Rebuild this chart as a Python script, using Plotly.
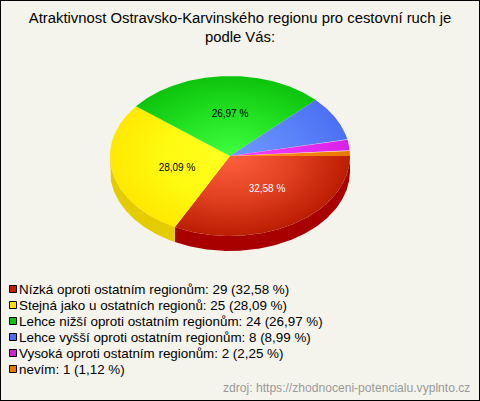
import math
import plotly.graph_objects as go

TITLE = "Atraktivnost Ostravsko-Karvinského regionu pro cestovní ruch je<br>podle Vás:"
SOURCE = "zdroj: https://zhodnoceni-potencialu.vyplnto.cz"
categories = [
    "Nízká oproti ostatním regionům",
    "Stejná jako u ostatních regionů",
    "Lehce nižší oproti ostatním regionům",
    "Lehce vyšší oproti ostatním regionům",
    "Vysoká oproti ostatním regionům",
    "nevím",
]
counts = [29, 25, 24, 8, 2, 1]

edge_colors = ["#BC1C00", "#FFE800", "#0CC40C", "#4C70F4", "#D820E8", "#E87800"]
mid_colors = ["#E04020", "#FFFA10", "#22E022", "#5C84FA", "#E830F4", "#F48810"]
center_colors = ["#FF6040", "#FFFF20", "#40FF40", "#7098FF", "#F840FF", "#FF9820"]
side_colors = ["#A80000", "#E4CC00", "#0A9A0A", "#3A58C0", "#A818B8", "#B86000"]
legend_colors = ["#C02000", "#FFE000", "#0CC40C", "#4C70F4", "#D020D8", "#E87800"]
label_text_colors = ["#FFFFFF", "#000000", "#000000"]
label_offsets = [(37, 33), (-53, 12), (0, -42)]

W, H = 480, 401
CX, CY, RX, RY, DEPTH = 230, 156, 120, 80, 15
BG = "#F5F4EC"
total = sum(counts)


def pt(deg, dy=0):
    a = math.radians(deg)
    return CX + RX * math.cos(a), CY + RY * math.sin(a) + dy


fig = go.Figure()

# Slice angle bounds, clockwise on screen from 3 o'clock
bounds = [0]
for c in counts:
    bounds.append(bounds[-1] + 360 * c / total)

# Walls of the visible front half
for i in range(len(counts)):
    a0, a1 = bounds[i], min(bounds[i + 1], 180)
    if a0 >= 180:
        continue
    n = max(2, int((a1 - a0) * 2))
    arc = [a0 + (a1 - a0) * k / n for k in range(n + 1)]
    top = [pt(a) for a in arc]
    bottom = [pt(a, DEPTH) for a in reversed(arc)]
    pts = top + bottom + [top[0]]
    fig.add_trace(go.Scatter(x=[p[0] for p in pts], y=[p[1] for p in pts], mode="lines",
                             line=dict(width=0), fill="toself", fillcolor=side_colors[i],
                             hoverinfo="skip", showlegend=False))

# Top face: zero-area spikes make each slice's bounding box the full ellipse,
# so the radial gradient is centred on the pie centre.
for i in range(len(counts)):
    a0, a1 = bounds[i], bounds[i + 1]
    n = max(2, int((a1 - a0) * 2))
    pts = [(CX, CY)] + [pt(a0 + (a1 - a0) * k / n) for k in range(n + 1)] + [(CX, CY)]
    for deg in (0, 90, 180, 270):
        pts += [pt(deg), (CX, CY)]
    fig.add_trace(go.Scatter(x=[p[0] for p in pts], y=[p[1] for p in pts], mode="lines",
                             line=dict(width=0), fill="toself",
                             fillgradient=dict(type="radial",
                                               colorscale=[[0, center_colors[i]], [0.55, mid_colors[i]],
                                                           [1, edge_colors[i]]]),
                             hoverinfo="skip", showlegend=False))

# Percent labels on the three biggest slices
for i, (dx, dy) in enumerate(label_offsets):
    pct = f"{100 * counts[i] / total:.2f}".replace(".", ",") + " %"
    fig.add_trace(go.Scatter(x=[CX + dx], y=[CY + dy], mode="text", text=[pct],
                             textposition="middle center",
                             textfont=dict(family="Liberation Sans", size=10, color=label_text_colors[i]),
                             hoverinfo="skip", showlegend=False))

# Legend
for i, cat in enumerate(categories):
    fig.add_trace(go.Scatter(x=[13], y=[289 + 16 * i], mode="markers",
                             marker=dict(symbol="square", size=7, color=legend_colors[i],
                                         line=dict(color="#000000", width=1)),
                             hoverinfo="skip", showlegend=False))

legend_notes = [dict(text=f"{cat}: {counts[i]} ({100 * counts[i] / total:.2f} %)".replace(".", ","),
                     x=20, y=289 + 16 * i, xref="x", yref="y", xanchor="left", yanchor="middle",
                     xshift=-3, showarrow=False, font=dict(family="Liberation Sans", size=13.4, color="#000000"))
                for i, cat in enumerate(categories)]

fig.update_layout(
    width=W, height=H, margin=dict(l=0, r=0, t=0, b=0),
    paper_bgcolor=BG, plot_bgcolor=BG, showlegend=False,
    title=dict(text=TITLE, x=0.5, xanchor="center", xref="paper", y=1 - 23 / H, yanchor="middle",
               font=dict(family="Liberation Sans", size=14.85, color="#000000")),
    xaxis=dict(range=[0, W], visible=False, fixedrange=True),
    yaxis=dict(range=[H, 0], visible=False, fixedrange=True),
    shapes=[dict(type="rect", xref="paper", yref="paper", x0=0, x1=1, y0=0, y1=1,
                 line=dict(color="#000000", width=2), fillcolor="rgba(0,0,0,0)")],
    annotations=legend_notes + [dict(text=SOURCE, x=470, y=388, xref="x", yref="y", xanchor="right", yanchor="middle",
                      xshift=2, showarrow=False, font=dict(family="Liberation Sans", size=12.1, color="#999999"))],
)

fig.write_html("out.html", config=dict(displayModeBar=False),
               post_script="document.body.style.margin='0';")
